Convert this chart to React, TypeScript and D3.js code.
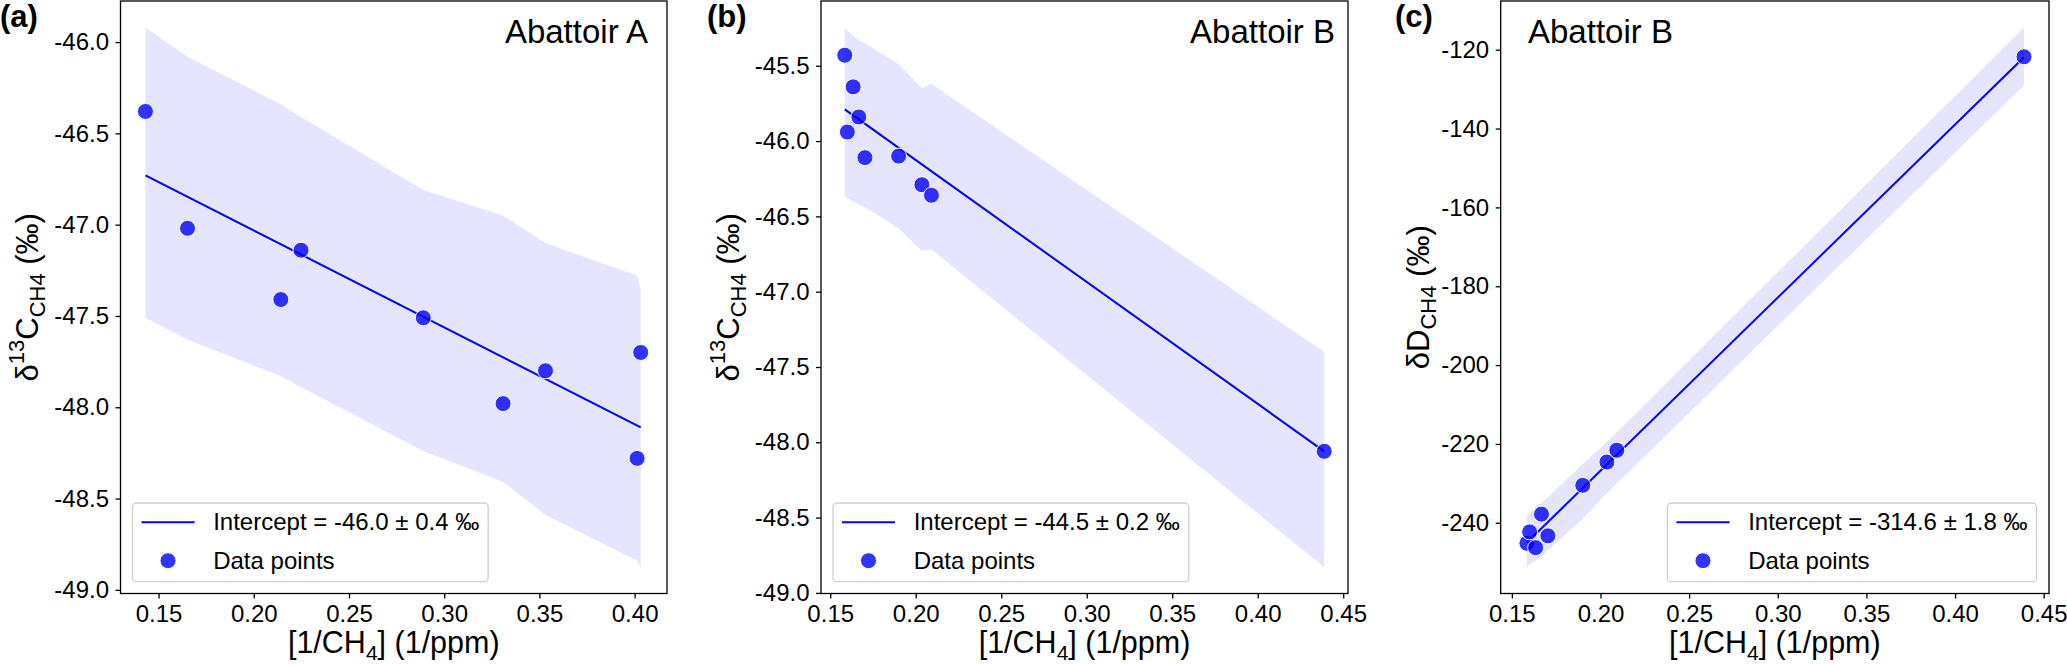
import { useEffect, useRef } from "react";
import * as d3 from "d3";

// Abattoir A: 1/CH4 vs d13C
const xA = [0.1431, 0.1652, 0.2142, 0.2248, 0.289, 0.3309, 0.3532, 0.4013, 0.4032];
const d13cA = [-46.38, -47.02, -47.41, -47.14, -47.51, -47.98, -47.8, -48.28, -47.7];
const upperA = [-45.92, -46.08, -46.34, -46.41, -46.81, -46.95, -47.1, -47.28, -47.35];
const lowerA = [-47.51, -47.63, -47.83, -47.89, -48.24, -48.41, -48.59, -48.84, -48.88];
const fitXA = [0.1431, 0.4032];
const fitYA = [-46.73, -48.11];

// Abattoir B: same samples for d13C and dD
const xB = [0.1585, 0.16, 0.1634, 0.1667, 0.1703, 0.19, 0.2036, 0.2092, 0.4389];
const d13cB = [-45.43, -45.94, -45.64, -45.84, -46.11, -46.1, -46.29, -46.36, -48.06];
const upperB = [-45.25, -45.27, -45.3, -45.33, -45.35, -45.49, -45.65, -45.62, -47.4];
const lowerB = [-46.36, -46.38, -46.4, -46.42, -46.44, -46.58, -46.73, -46.72, -48.83];
const fitXB = [0.1585, 0.4389];
const fitYB = [-45.79, -48.06];

const dDB = [-245.2, -242.3, -246.3, -237.8, -243.3, -230.5, -224.6, -221.6, -121.8];
const upperC = [-238.3, -237.6, -236.0, -234.8, -233.5, -225.0, -219.5, -217.0, -114.4];
const lowerC = [-251.3, -250.5, -249.6, -248.4, -247.0, -239.0, -232.5, -230.0, -129.0];
const fitYC = [-245.0, -121.9];

// ticks
const xTicksA = [0.15, 0.2, 0.25, 0.3, 0.35, 0.4];
const xTicksB = [0.15, 0.2, 0.25, 0.3, 0.35, 0.4, 0.45];
const yTicksA = [-46.0, -46.5, -47.0, -47.5, -48.0, -48.5, -49.0];
const yTicksB = [-45.5, -46.0, -46.5, -47.0, -47.5, -48.0, -48.5, -49.0];
const yTicksC = [-120, -140, -160, -180, -200, -220, -240];

const interceptLabels = [
  "Intercept = -46.0 ± 0.4 ‰",
  "Intercept = -44.5 ± 0.2 ‰",
  "Intercept = -314.6 ± 1.8 ‰",
];

export default function App() {
  const svgRef = useRef(null);

  useEffect(() => {
    const svg = d3.select(svgRef.current);
    svg.selectAll("*").remove();

    const top = 1,
      bottom = 593.5;

    const panels = [
      {
        tag: "(a)", tagX: 0, left: 120.5, right: 667,
        xs: xA, ys: d13cA, up: upperA, lo: lowerA, fitX: fitXA, fitY: fitYA,
        xDomain: [0.130, 0.417], yDomain: [-49.02, -45.775],
        xTicks: xTicksA, yTicks: yTicksA, digits: 1,
        yLabel: "C", yLabelX: 38,
        title: "Abattoir A", titleX: 648, titleAnchor: "end",
        legend: interceptLabels[0], legendRight: false,
      },
      {
        tag: "(b)", tagX: 707, left: 821, right: 1348,
        xs: xB, ys: d13cB, up: upperB, lo: lowerB, fitX: fitXB, fitY: fitYB,
        xDomain: [0.1446, 0.4528], yDomain: [-49.004, -45.07],
        xTicks: xTicksB, yTicks: yTicksB, digits: 1,
        yLabel: "C", yLabelX: 739,
        title: "Abattoir B", titleX: 1335, titleAnchor: "end",
        legend: interceptLabels[1], legendRight: false,
      },
      {
        tag: "(c)", tagX: 1395, left: 1500.7, right: 2049,
        xs: xB, ys: dDB, up: upperC, lo: lowerC, fitX: fitXB, fitY: fitYC,
        xDomain: [0.1437, 0.453], yDomain: [-257.93, -107.65],
        xTicks: xTicksB, yTicks: yTicksC, digits: 0,
        yLabel: "D", yLabelX: 1429,
        title: "Abattoir B", titleX: 1528, titleAnchor: "start",
        legend: interceptLabels[2], legendRight: true,
      },
    ];

    panels.forEach((p) => {
      const g = svg.append("g");
      const x = d3.scaleLinear().domain(p.xDomain).range([p.left, p.right]);
      const y = d3.scaleLinear().domain(p.yDomain).range([bottom, top]);
      const idx = d3.range(p.xs.length);

      // confidence band
      const area = d3
        .area()
        .x((i) => x(p.xs[i]))
        .y0((i) => y(p.lo[i]))
        .y1((i) => y(p.up[i]));
      g.append("path")
        .attr("d", area(idx))
        .attr("fill", "blue")
        .attr("fill-opacity", 0.1);

      // regression line
      const line = d3
        .line()
        .x((i) => x(p.fitX[i]))
        .y((i) => y(p.fitY[i]));
      g.append("path")
        .attr("d", line([0, 1]))
        .attr("fill", "none")
        .attr("stroke", "blue")
        .attr("stroke-width", 2);

      // data points
      g.selectAll(".pt")
        .data(idx)
        .enter()
        .append("circle")
        .attr("cx", (i) => x(p.xs[i]))
        .attr("cy", (i) => y(p.ys[i]))
        .attr("r", 8)
        .attr("fill", "blue")
        .attr("fill-opacity", 0.8)
        .attr("stroke", "white")
        .attr("stroke-width", 1);

      // axes
      const fmt = (d) => d.toFixed(p.digits);
      const xa = g
        .append("g")
        .attr("transform", `translate(0,${bottom})`)
        .call(d3.axisBottom(x).tickValues(p.xTicks).tickFormat((d) => d.toFixed(2)).tickSize(5).tickSizeOuter(0).tickPadding(6.5));
      const ya = g
        .append("g")
        .attr("transform", `translate(${p.left},0)`)
        .call(d3.axisLeft(y).tickValues(p.yTicks).tickFormat(fmt).tickSize(5).tickSizeOuter(0).tickPadding(6.5));
      [xa, ya].forEach((a) => {
        a.attr("font-size", null).attr("font-family", null);
        a.select(".domain").remove();
        a.selectAll("line").attr("stroke", "#000").attr("stroke-width", 1.3);
        a.selectAll("text").attr("fill", "#000").style("font-size", "24px");
      });

      // frame
      g.append("rect")
        .attr("x", p.left)
        .attr("y", top)
        .attr("width", p.right - p.left)
        .attr("height", bottom - top)
        .attr("fill", "none")
        .attr("stroke", "#000")
        .attr("stroke-width", 1.3);

      // x label
      const xl = g
        .append("text")
        .attr("x", (p.left + p.right) / 2)
        .attr("y", 653)
        .attr("text-anchor", "middle")
        .style("font-size", "30.5px");
      xl.append("tspan").text("[1/CH");
      xl.append("tspan").attr("dy", 7).style("font-size", "21px").text("4");
      xl.append("tspan").attr("dy", -7).text("] (1/ppm)");

      // y label
      const yl = g
        .append("text")
        .attr("transform", `translate(${p.yLabelX},${(top + bottom) / 2}) rotate(-90)`)
        .attr("text-anchor", "middle")
        .style("font-size", "31px");
      yl.append("tspan").text("δ");
      if (p.yLabel === "C") {
        yl.append("tspan").attr("dy", -14).style("font-size", "22px").text("13");
        yl.append("tspan").attr("dy", 14).text("C");
      } else {
        yl.append("tspan").text("D");
      }
      yl.append("tspan").attr("dy", 7).style("font-size", "22px").text("CH4");
      yl.append("tspan").attr("dy", -7).text(" (‰)");

      // panel tag and title
      g.append("text")
        .attr("x", p.tagX)
        .attr("y", 26.5)
        .style("font-size", "31px")
        .style("font-weight", "bold")
        .text(p.tag);
      g.append("text")
        .attr("x", p.titleX)
        .attr("y", 42.5)
        .attr("text-anchor", p.titleAnchor)
        .style("font-size", "33px")
        .text(p.title);

      // legend
      const lg = g.append("g");
      const box = lg.append("rect");
      const t1 = lg
        .append("text")
        .attr("y", 522)
        .attr("dy", "0.35em")
        .style("font-size", "24px")
        .text(p.legend);
      const w = 80.7 + t1.node().getComputedTextLength() + 9;
      const bx = p.legendRight ? p.right - 12.5 - w : p.left + 12;
      box
        .attr("x", bx)
        .attr("y", 503)
        .attr("width", w)
        .attr("height", 78.7)
        .attr("rx", 4)
        .attr("fill", "white")
        .attr("fill-opacity", 0.8)
        .attr("stroke", "#d0d0d0")
        .attr("stroke-width", 1.3);
      t1.attr("x", bx + 80.7);
      lg.append("line")
        .attr("x1", bx + 9)
        .attr("x2", bx + 62)
        .attr("y1", 522.3)
        .attr("y2", 522.3)
        .attr("stroke", "blue")
        .attr("stroke-width", 2);
      lg.append("circle")
        .attr("cx", bx + 35.5)
        .attr("cy", 560.7)
        .attr("r", 8)
        .attr("fill", "blue")
        .attr("fill-opacity", 0.8)
        .attr("stroke", "white")
        .attr("stroke-width", 1);
      lg.append("text")
        .attr("x", bx + 80.7)
        .attr("y", 560.5)
        .attr("dy", "0.35em")
        .style("font-size", "24px")
        .text("Data points");
    });

    return () => {
      d3.select(svgRef.current).selectAll("*").remove();
    };
  }, []);

  return (
    <svg
      ref={svgRef}
      width={2067}
      height={665}
      style={{
        position: "absolute",
        left: 0,
        top: 0,
        background: "white",
        fontFamily: "'Liberation Sans', Arial, sans-serif",
      }}
    ></svg>
  );
}
